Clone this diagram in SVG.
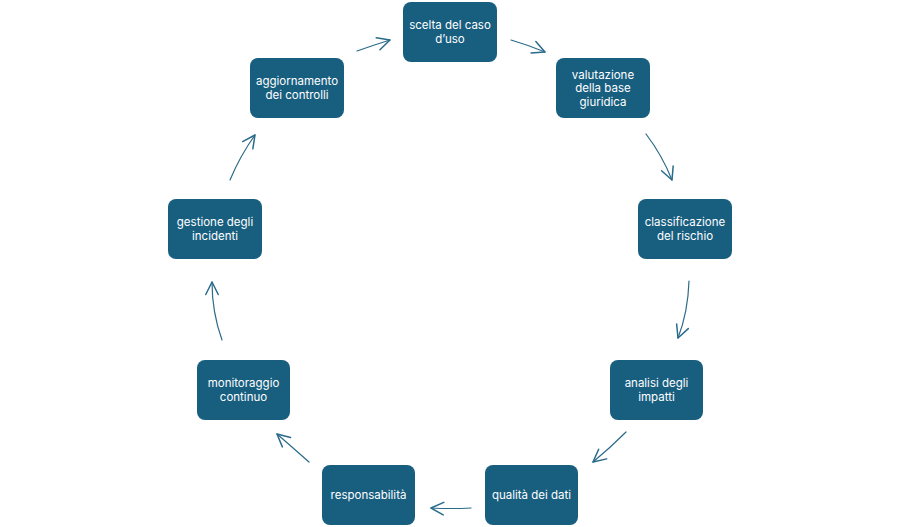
<svg xmlns="http://www.w3.org/2000/svg" width="900" height="527" viewBox="0 0 900 527">
<defs>
<style>
.box{fill:#185E7F;}
.lbl{fill:#ffffff;font-family:Inter,"Liberation Sans",sans-serif;font-size:11.5px;text-anchor:middle;}
.arr{fill:none;stroke:#2A6A8A;stroke-width:1.2;stroke-linecap:round;marker-end:url(#ah);}
</style>
<marker id="ah" markerUnits="userSpaceOnUse" markerWidth="20" markerHeight="20" refX="0" refY="0" viewBox="-12 -8 14 16" orient="auto">
<path d="M-10,-5 L0,0 L-10,5" fill="none" stroke="#2A6A8A" stroke-width="1.2" stroke-linecap="round" stroke-linejoin="round"/>
</marker>
</defs>
<rect width="900" height="527" fill="#ffffff"/>
<g id="connectors">
<path class="arr" d="M357,51 Q374,45 390,40"/>
<path class="arr" d="M511,40 Q528,45 545,52"/>
<path class="arr" d="M646,134 Q662,155 672,180"/>
<path class="arr" d="M689,281 Q688,312 678,338"/>
<path class="arr" d="M626,432 Q610,448 593,462"/>
<path class="arr" d="M471,508 Q451,509 431,508"/>
<path class="arr" d="M309,462 Q292,447 277,434"/>
<path class="arr" d="M222,340 Q212,312 212,282"/>
<path class="arr" d="M230,180 Q240,156 255,135"/>
</g>
<g id="n1"><rect class="box" x="403" y="2" width="94" height="60" rx="8"/><text class="lbl" x="450" y="29">scelta del caso</text><text class="lbl" x="450" y="42.5">d’uso</text></g>
<g id="n2"><rect class="box" x="556" y="58" width="94" height="60" rx="8"/><text class="lbl" x="603" y="78.5">valutazione</text><text class="lbl" x="603" y="92">della base</text><text class="lbl" x="603" y="105.5">giuridica</text></g>
<g id="n3"><rect class="box" x="638" y="199" width="94" height="60" rx="8"/><text class="lbl" x="685" y="226">classificazione</text><text class="lbl" x="685" y="239.5">del rischio</text></g>
<g id="n4"><rect class="box" x="610" y="360" width="93" height="60" rx="8"/><text class="lbl" x="656.5" y="387">analisi degli</text><text class="lbl" x="656.5" y="400.5">impatti</text></g>
<g id="n5"><rect class="box" x="485" y="465" width="93" height="60" rx="8"/><text class="lbl" x="531.5" y="499">qualità dei dati</text></g>
<g id="n6"><rect class="box" x="322" y="465" width="93" height="60" rx="8"/><text class="lbl" x="368.5" y="499">responsabilità</text></g>
<g id="n7"><rect class="box" x="197" y="360" width="93" height="60" rx="8"/><text class="lbl" x="243.5" y="387">monitoraggio</text><text class="lbl" x="243.5" y="400.5">continuo</text></g>
<g id="n8"><rect class="box" x="168" y="199" width="94" height="60" rx="8"/><text class="lbl" x="215" y="226">gestione degli</text><text class="lbl" x="215" y="239.5">incidenti</text></g>
<g id="n9"><rect class="box" x="250" y="58" width="94" height="60" rx="8"/><text class="lbl" x="297" y="85">aggiornamento</text><text class="lbl" x="297" y="98.5">dei controlli</text></g>
</svg>
